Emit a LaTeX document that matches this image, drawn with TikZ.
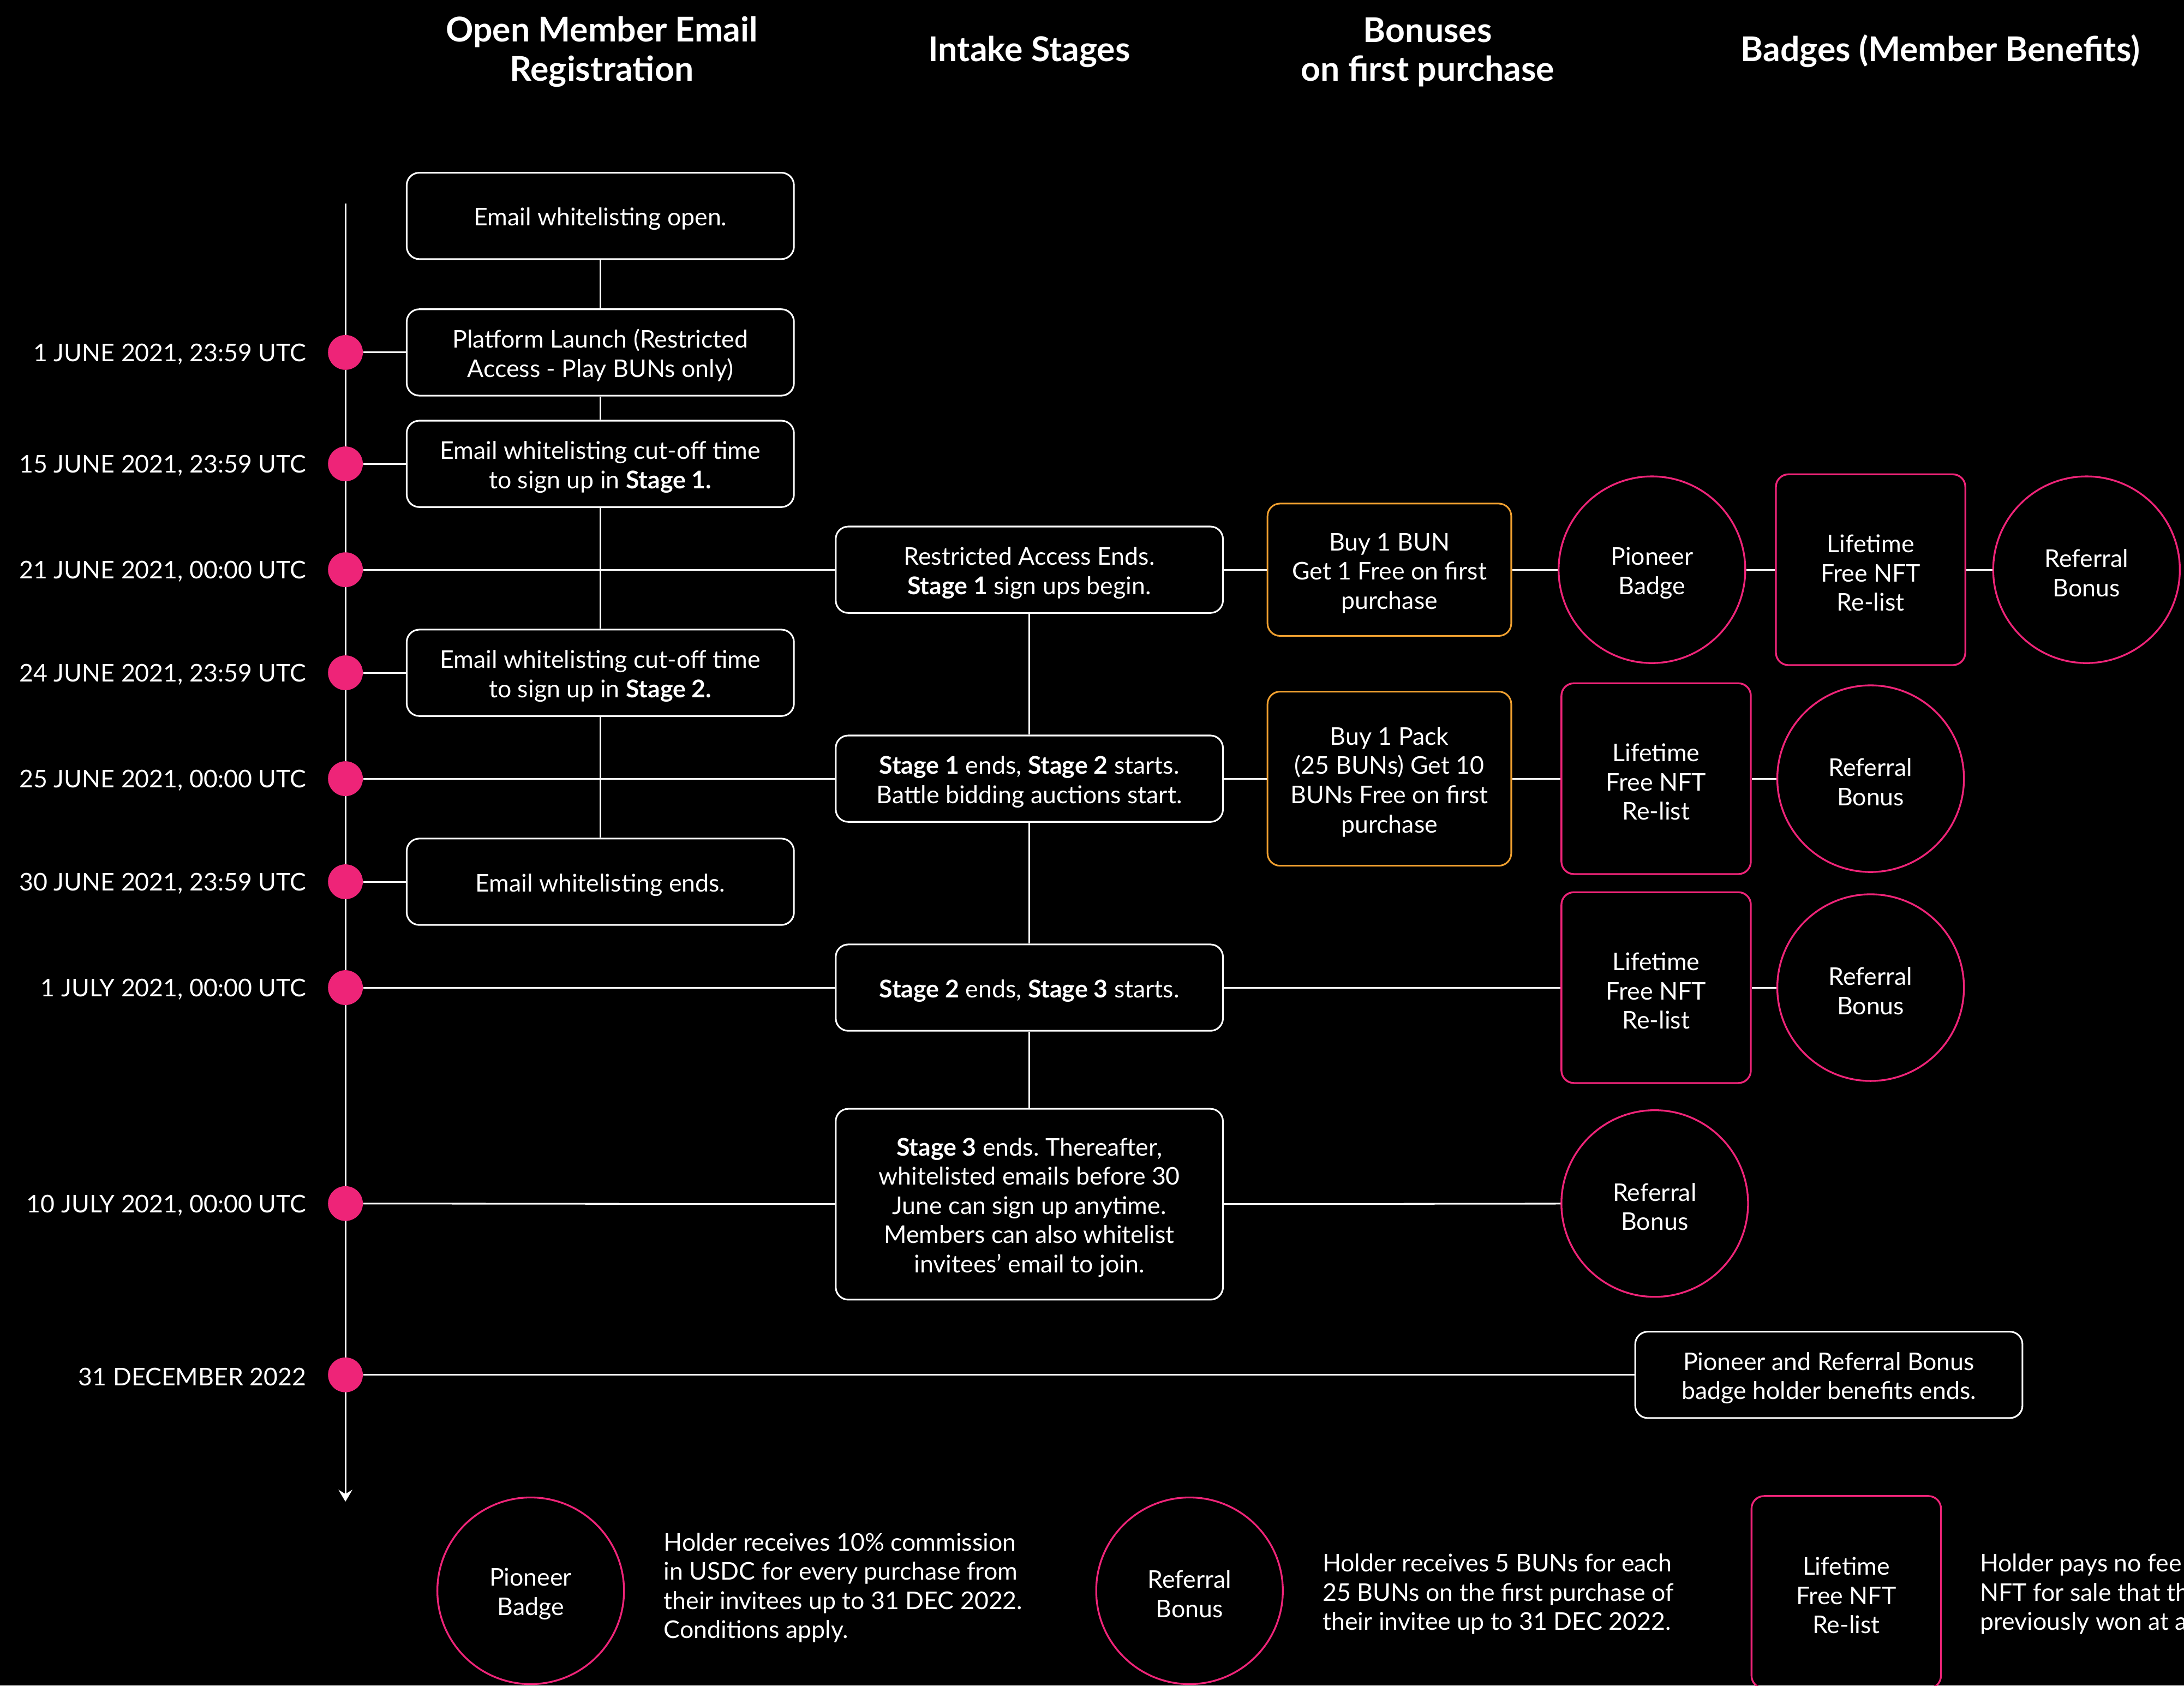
\documentclass[tikz,border=0pt]{standalone}
\usepackage{fontspec}
\setmainfont{Lato}
\frenchspacing
\usetikzlibrary{arrows.meta}
\definecolor{pinkc}{HTML}{EE2478}
\definecolor{orangec}{HTML}{F0A030}
\newcommand{\stt}{\rule{0pt}{1em}}
\begin{document}
\begin{tikzpicture}[x=1pt,y=-1pt,
 every node/.style={text=white, font=\fontsize{17.5}{21}\selectfont, execute at begin node={\rule{0pt}{1em}}},
 wbox/.style={draw=white, line width=1.2pt, rounded corners=9pt, minimum width=278pt, minimum height=62pt, inner sep=0pt, align=center, fill=black},
 obox/.style={draw=orangec, line width=1.2pt, rounded corners=9pt, minimum width=175pt, inner sep=0pt, align=center},
 pbox/.style={draw=pinkc, line width=1.3pt, rounded corners=9pt, minimum width=136pt, minimum height=137pt, inner sep=0pt, align=center},
 pcirc/.style={draw=pinkc, line width=1.3pt, circle, minimum size=134pt, inner sep=0pt, align=center},
 dot/.style={circle, fill=pinkc, minimum size=25pt, inner sep=0pt},
 link/.style={draw=white, line width=1.2pt},
 datelbl/.style={anchor=east, inner xsep=0pt},
 head/.style={font=\fontsize{24.5}{28}\selectfont\bfseries, align=center},
 legend/.style={anchor=west, align=left}
]
\fill[black] (0,0) rectangle (1568,1210);
\clip (0,0) rectangle (1568,1210);

% headers
\node[head] (h1) at (432,34) {\stt Open Member Email\\Registration};
\node[head] (h2) at (739,34) {Intake Stages};
\node[head] (h3) at (1025,34) {\stt Bonuses\\on first purchase};
\node[head] (h4) at (1393,34) {Badges (Member Benefits)};

% timeline
\coordinate (tltop) at (248,146);
\coordinate (tlbot) at (248,1078);
\draw[link, -{Stealth[length=8.5pt,width=10pt,inset=3pt]}] (tltop) -- (tlbot);

% dots and dates
\foreach \n/\y/\t in {a/253/1 JUNE 2021{,} 23:59 UTC, b/333/15 JUNE 2021{,} 23:59 UTC, c/409/21 JUNE 2021{,} 00:00 UTC, d/483/24 JUNE 2021{,} 23:59 UTC, e/559/25 JUNE 2021{,} 00:00 UTC, f/633/30 JUNE 2021{,} 23:59 UTC, g/709/1 JULY 2021{,} 00:00 UTC, h/864/10 JULY 2021{,} 00:00 UTC, i/987/31 DECEMBER 2022}{
  \node[dot] (dot\n) at (248,\y) {};
  \node[datelbl] (date\n) at (220,\y-1) {\t};
}

% column 1
\node[wbox] (e1) at (431,155) {Email whitelisting open.};
\node[wbox] (e2) at (431,253) {\stt Platform Launch (Restricted\\Access - Play BUNs only)};
\node[wbox] (e3) at (431,333) {\stt Email whitelisting cut-off time\\to sign up in \textbf{Stage 1.}};
\node[wbox] (e4) at (431,483) {\stt Email whitelisting cut-off time\\to sign up in \textbf{Stage 2.}};
\node[wbox] (e5) at (431,633) {Email whitelisting ends.};

% column 2
\node[wbox] (s1) at (739,409) {\stt Restricted Access Ends.\\\textbf{Stage 1} sign ups begin.};
\node[wbox] (s2) at (739,559) {\stt\textbf{Stage 1} ends, \textbf{Stage 2} starts.\\Battle bidding auctions start.};
\node[wbox] (s3) at (739,709) {\textbf{Stage 2} ends, \textbf{Stage 3} starts.};
\node[wbox, minimum height=137pt] (s4) at (739,864.5) {\stt\textbf{Stage 3} ends. Thereafter,\\whitelisted emails before 30\\June can sign up anytime.\\Members can also whitelist\\invitees’ email to join.};

% column 3
\node[obox, minimum height=95pt] (b1) at (997.5,409) {\stt Buy 1 BUN\\Get 1 Free on first\\purchase};
\node[obox, minimum height=125pt] (b2) at (997.5,559) {\stt Buy 1 Pack\\(25 BUNs) Get 10\\BUNs Free on first\\purchase};

% badges
\node[pcirc] (pc1) at (1186,409) {\stt Pioneer\\Badge};
\node[pbox] (lc1) at (1343,409) {\stt Lifetime\\Free NFT\\Re-list};
\node[pcirc] (rc1) at (1498,409) {\stt Referral\\Bonus};
\node[pbox] (le1) at (1189,559) {\stt Lifetime\\Free NFT\\Re-list};
\node[pcirc] (re1) at (1343,559) {\stt Referral\\Bonus};
\node[pbox] (lg1) at (1189,709) {\stt Lifetime\\Free NFT\\Re-list};
\node[pcirc] (rg1) at (1343,709) {\stt Referral\\Bonus};
\node[pcirc] (rh1) at (1188,864) {\stt Referral\\Bonus};
\node[wbox] (fin) at (1313,987) {\stt Pioneer and Referral Bonus\\badge holder benefits ends.};

% connectors column 1
\draw[link] (e1) -- (e2);
\draw[link] (e2) -- (e3);
\draw[link] (e3) -- (e4);
\draw[link] (e4) -- (e5);
\draw[link] (dota) -- (e2);
\draw[link] (dotb) -- (e3);
\draw[link] (dotd) -- (e4);
\draw[link] (dotf) -- (e5);
% connectors column 2
\draw[link] (s1) -- (s2);
\draw[link] (s2) -- (s3);
\draw[link] (s3) -- (s4);
\draw[link] (dotc) -- (s1);
\draw[link] (dote) -- (s2);
\draw[link] (dotg) -- (s3);
\draw[link] (doth) -- (s4);
\draw[link] (doti) -- (fin);
% rows
\draw[link] (s1) -- (b1);
\draw[link] (b1) -- (pc1);
\draw[link] (pc1) -- (lc1);
\draw[link] (lc1) -- (rc1);
\draw[link] (s2) -- (b2);
\draw[link] (b2) -- (le1);
\draw[link] (le1) -- (re1);
\draw[link] (s3) -- (lg1);
\draw[link] (lg1) -- (rg1);
\draw[link] (s4) -- (rh1);

% legend
\node[pcirc] (lgp) at (381,1142) {\stt Pioneer\\Badge};
\node[legend] (lgpt) at (473,1137.5) {\stt Holder receives 10\% commission\\in USDC for every purchase from\\their invitees up to 31 DEC 2022.\\Conditions apply.};
\node[pcirc] (lgr) at (854,1142) {\stt Referral\\Bonus};
\node[legend] (lgrt) at (946,1142) {\stt Holder receives 5 BUNs for each\\25 BUNs on the first purchase of\\their invitee up to 31 DEC 2022.};
\node[pbox, minimum height=138pt] (lgl) at (1325.5,1143) {\stt Lifetime\\Free NFT\\Re-list};
\node[legend] (lglt) at (1418,1142) {\stt Holder pays no fee\\NFT for sale that th\\previously won at a};
\end{tikzpicture}
\end{document}
